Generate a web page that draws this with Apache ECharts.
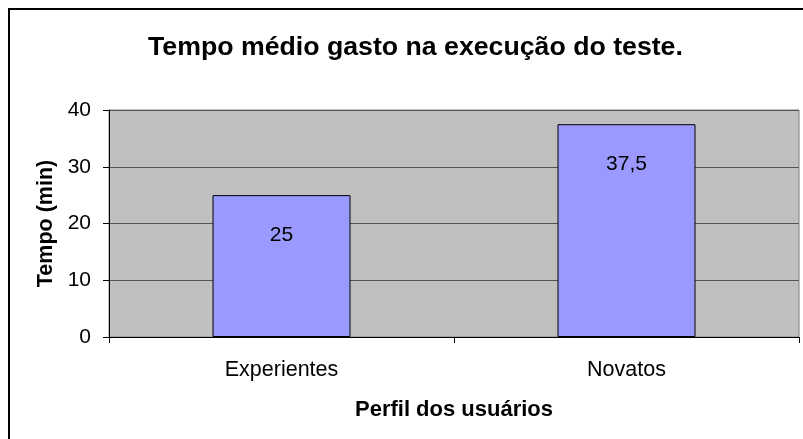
<!DOCTYPE html>
<html>
<head>
<meta charset="utf-8">
<script src="https://cdn.jsdelivr.net/npm/echarts@6/dist/echarts.min.js"></script>
<style>html,body{margin:0;padding:0;background:#fff}#c{width:803px;height:439px}</style>
</head>
<body>
<div id="c"></div>
<script>
const categories = ['Experientes', 'Novatos'];
const tempoValues = [25, 37.5];
const yTicks = [0, 10, 20, 30, 40];
const titleText = 'Tempo médio gasto na execução do teste.';
const yName = 'Tempo (min)';
const xName = 'Perfil dos usuários';

const chart = echarts.init(document.getElementById('c'), null, {renderer: 'canvas'});
const F = 'Arial, "Liberation Sans", sans-serif';
chart.setOption({
  animation: false,
  backgroundColor: '#fff',
  title: {
    text: titleText, left: 143, top: 29,
    textStyle: {fontFamily: F, fontSize: 26.7, fontWeight: 'bold', color: '#000'}
  },
  graphic: [{
    type: 'rect', silent: true, z: 100,
    shape: {x: 9, y: 9, width: 800, height: 440},
    style: {fill: 'none', stroke: '#000', lineWidth: 2}
  }],
  grid: {
    left: 109, top: 110, right: 4, bottom: 102,
    show: true, backgroundColor: '#c0c0c0', borderColor: '#808080', borderWidth: 1
  },
  xAxis: {
    type: 'category', data: categories,
    name: xName, nameLocation: 'middle', nameGap: 62,
    nameTextStyle: {fontFamily: F, fontSize: 22, fontWeight: 'bold', color: '#000'},
    axisLine: {lineStyle: {color: '#000', width: 1}},
    axisTick: {show: true, length: 6, lineStyle: {color: '#000'}},
    axisLabel: {fontFamily: F, fontSize: 21.5, color: '#000', margin: 22}
  },
  yAxis: {
    type: 'value', min: yTicks[0], max: yTicks[yTicks.length - 1], interval: 10,
    name: yName, nameLocation: 'middle', nameGap: 51,
    nameTextStyle: {fontFamily: F, fontSize: 21.5, fontWeight: 'bold', color: '#000'},
    axisLine: {show: true, lineStyle: {color: '#000', width: 1}},
    axisTick: {show: true, length: 6, lineStyle: {color: '#000'}},
    axisLabel: {fontFamily: F, fontSize: 21, color: '#000', margin: 18},
    splitLine: {show: true, lineStyle: {color: '#555', width: 1}}
  },
  series: [{
    type: 'bar', data: tempoValues, barWidth: '40%',
    itemStyle: {color: '#9999ff', borderColor: '#000', borderWidth: 1},
    label: {
      show: true, position: 'insideTop', distance: 30,
      fontFamily: F, fontSize: 21, color: '#000',
      formatter: p => String(p.value).replace('.', ',')
    }
  }]
});
</script>
</body>
</html>
